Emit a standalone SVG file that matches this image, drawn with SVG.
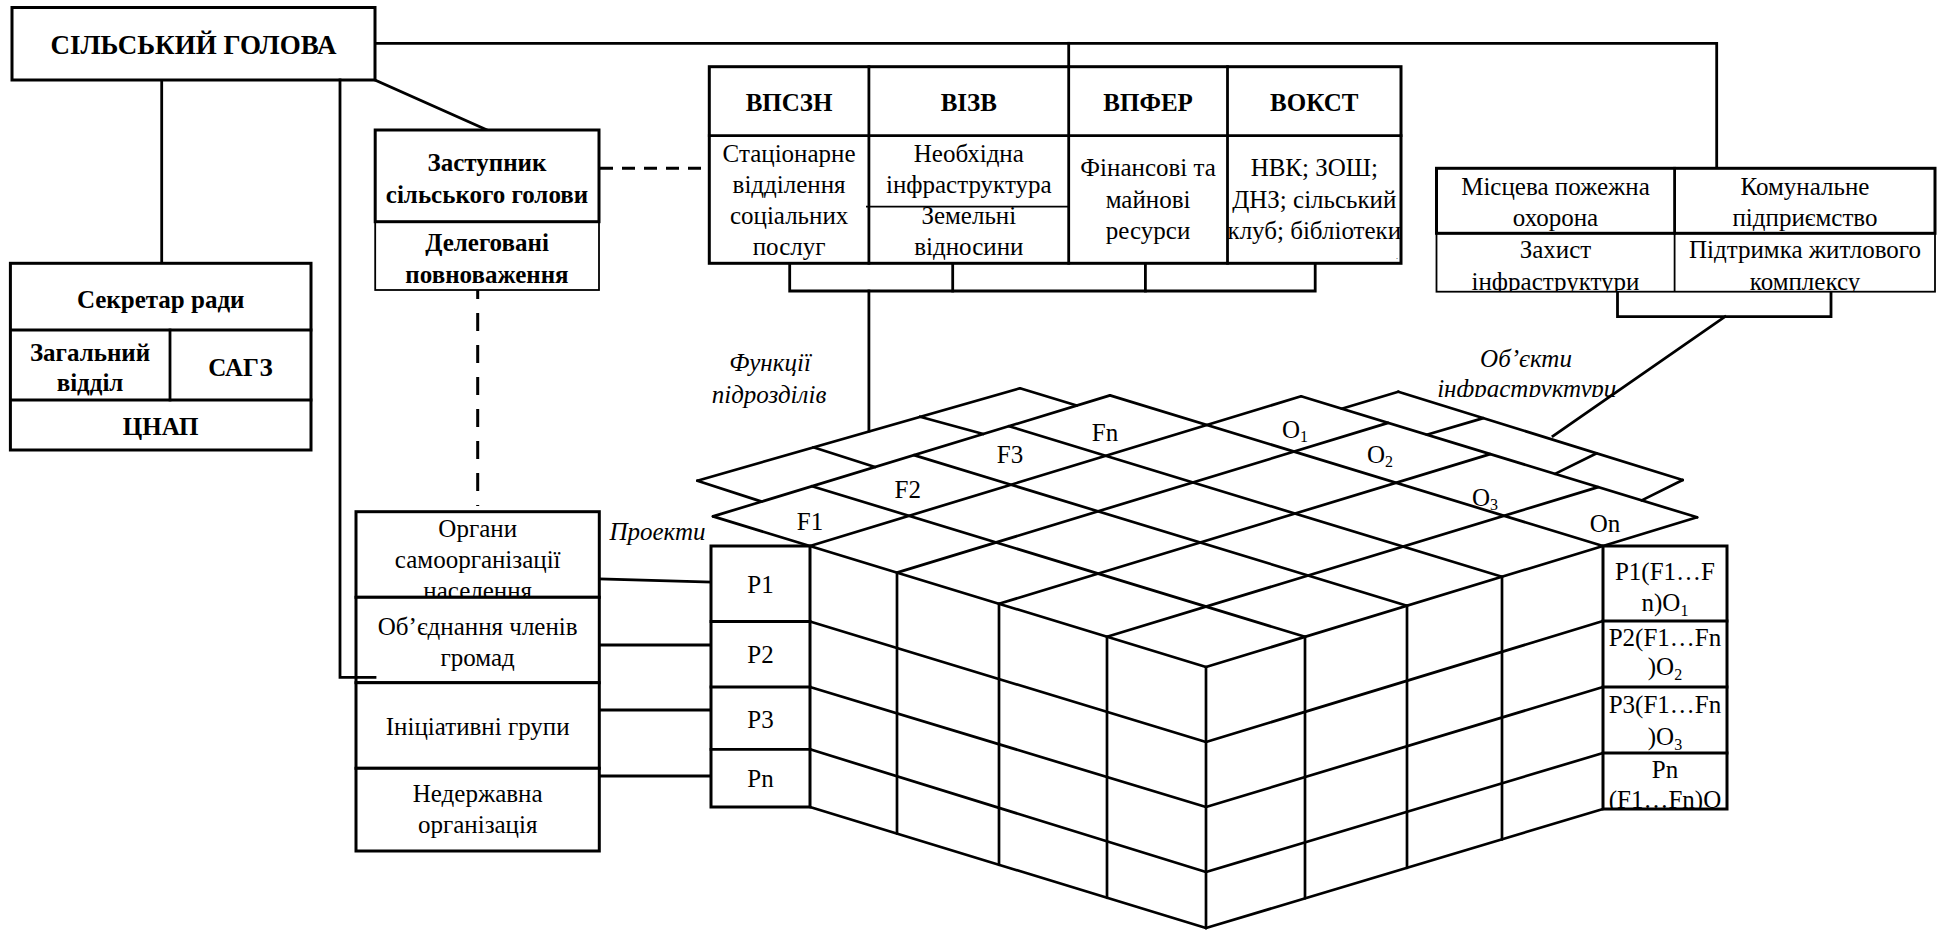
<svg xmlns="http://www.w3.org/2000/svg" width="1945" height="930" viewBox="0 0 1945 930">
<style>
.bx{fill:#fff;stroke:#000;stroke-width:3}
.bt{fill:#fff;stroke:#000;stroke-width:1.8}
.tn{fill:none;stroke:#000;stroke-width:1.8}
.ln{fill:none;stroke:#000;stroke-width:2.8;stroke-linecap:square}
.gl{fill:none;stroke:#000;stroke-width:2.7;stroke-linecap:round}
.dh{fill:none;stroke:#000;stroke-width:3;stroke-dasharray:13 9}
.dv{fill:none;stroke:#000;stroke-width:3;stroke-dasharray:18 14}
text{font-family:"Liberation Serif","Times New Roman",serif;font-size:25px;fill:#000;text-anchor:middle}
.b{font-weight:bold}
.i{font-style:italic}
</style>
<defs>
<clipPath id="cKom"><rect x="1436" y="168" width="500" height="123.5"/></clipPath>
<clipPath id="cObj"><rect x="1380" y="330" width="300" height="67"/></clipPath>
<clipPath id="cPn"><rect x="1603" y="753" width="125" height="56"/></clipPath>
</defs>
<rect width="1945" height="930" fill="#fff"/>

<g id="connectors">
<polyline class="ln" points="375,43.3 1716.7,43.3 1716.7,168.3"/>
<line class="ln" x1="1068.7" y1="43.3" x2="1068.7" y2="66.7"/>
<line class="ln" x1="161.7" y1="80" x2="161.7" y2="263.3"/>
<line class="ln" x1="375" y1="80" x2="487" y2="130"/>
<line class="dh" x1="600" y1="168.3" x2="709" y2="168.3"/>
<line class="dv" x1="477.7" y1="281" x2="477.7" y2="506"/>
<polyline class="ln" points="789.7,263.3 789.7,291 1315.2,291 1315.2,263.3"/>
<line class="ln" x1="952.7" y1="263.3" x2="952.7" y2="291"/>
<line class="ln" x1="1145.4" y1="263.3" x2="1145.4" y2="291"/>
<line class="ln" x1="868.9" y1="291" x2="868.9" y2="431"/>
<polyline class="ln" points="1617.5,291.7 1617.5,316.7 1831,316.7 1831,291.7"/>
<line class="ln" x1="1725" y1="316.7" x2="1553" y2="436"/>
<line class="ln" x1="599.3" y1="579" x2="711" y2="582"/>
<line class="ln" x1="599.3" y1="645" x2="711" y2="645"/>
<line class="ln" x1="599.3" y1="710" x2="711" y2="710"/>
<line class="ln" x1="599.3" y1="776" x2="711" y2="776"/>
</g>

<g id="head">
<rect class="bx" x="12" y="7.5" width="363" height="72.5"/>
<text class="b" x="193.5" y="54" style="font-size:27px">СІЛЬСЬКИЙ ГОЛОВА</text>
</g>

<g id="secretary">
<rect class="bx" x="10.4" y="263.3" width="300.6" height="186.7"/>
<line class="ln" x1="10.4" y1="330" x2="311" y2="330"/>
<line class="ln" x1="10.4" y1="400" x2="311" y2="400"/>
<line class="ln" x1="170" y1="330" x2="170" y2="400"/>
<text class="b" x="160.7" y="308">Секретар ради</text>
<text class="b" x="90" y="361">Загальний</text>
<text class="b" x="90" y="391">відділ</text>
<text class="b" x="240.5" y="376">САГЗ</text>
<text class="b" x="160.7" y="435">ЦНАП</text>
</g>

<g id="deputy">
<rect class="bt" x="375.2" y="221.7" width="223.8" height="68.3"/>
<rect class="bx" x="375.2" y="130" width="223.8" height="91.7"/>
<text class="b" x="487" y="171">Заступник</text>
<text class="b" x="487" y="203">сільського голови</text>
<text class="b" x="487" y="251">Делеговані</text>
<text class="b" x="487" y="283">повноваження</text>
</g>

<g id="departments">
<rect class="bx" x="709.3" y="66.7" width="691.7" height="196.6"/>
<line class="ln" x1="709.3" y1="135.7" x2="1401" y2="135.7"/>
<line class="ln" x1="868.9" y1="66.7" x2="868.9" y2="263.3"/>
<line class="ln" x1="1068.7" y1="66.7" x2="1068.7" y2="263.3"/>
<line class="ln" x1="1227.5" y1="66.7" x2="1227.5" y2="263.3"/>
<line class="tn" x1="866" y1="206.7" x2="1068.7" y2="206.7"/>
<text class="b" x="789.1" y="111">ВПСЗН</text>
<text class="b" x="968.8" y="111">ВІЗВ</text>
<text class="b" x="1148.1" y="111">ВПФЕР</text>
<text class="b" x="1314.3" y="111">ВОКСТ</text>
<text x="789.1" y="162">Стаціонарне</text>
<text x="789.1" y="193">відділення</text>
<text x="789.1" y="224">соціальних</text>
<text x="789.1" y="255">послуг</text>
<text x="968.8" y="162">Необхідна</text>
<text x="968.8" y="193">інфраструктура</text>
<text x="968.8" y="224">Земельні</text>
<text x="968.8" y="255">відносини</text>
<text x="1148.1" y="176">Фінансові та</text>
<text x="1148.1" y="208">майнові</text>
<text x="1148.1" y="239">ресурси</text>
<text x="1314.3" y="176">НВК; ЗОШ;</text>
<text x="1314.3" y="208">ДНЗ; сільський</text>
<text x="1314.3" y="239">клуб; бібліотеки</text>
<text x="1397" y="259" style="font-size:8px">.</text>
</g>

<g id="infrastructure">
<rect class="bt" x="1436.5" y="233.3" width="498.5" height="58.4"/>
<line class="tn" x1="1674.6" y1="233.3" x2="1674.6" y2="291.7"/>
<rect class="bx" x="1436.5" y="168.3" width="498.5" height="65"/>
<line class="ln" x1="1674.6" y1="168.3" x2="1674.6" y2="233.3"/>
<text x="1555.5" y="195">Місцева пожежна</text>
<text x="1555.5" y="226">охорона</text>
<text x="1805" y="195">Комунальне</text>
<text x="1805" y="226">підприємство</text>
<g clip-path="url(#cKom)">
<text x="1555.5" y="258">Захист</text>
<text x="1555.5" y="290">інфраструктури</text>
<text x="1805" y="258">Підтримка житлового</text>
<text x="1805" y="290">комплексу</text>
</g>
</g>

<g id="community">
<rect class="bx" x="356" y="511.7" width="243.3" height="85.6"/>
<text x="477.7" y="537">Органи</text>
<text x="477.7" y="568">самоорганізації</text>
<text x="477.7" y="599">населення</text>
<rect class="bx" x="356" y="597.3" width="243.3" height="85.4"/>
<text x="477.7" y="635">Об’єднання членів</text>
<text x="477.7" y="666">громад</text>
<rect class="bx" x="356" y="682.7" width="243.3" height="85.6"/>
<text x="477.7" y="735">Ініціативні групи</text>
<rect class="bx" x="356" y="768.3" width="243.3" height="82.7"/>
<text x="477.7" y="802">Недержавна</text>
<text x="477.7" y="833">організація</text>
</g>

<g id="head-link">
<polyline class="ln" points="340,80 340,677.3 375,677.3"/>
</g>

<g id="projects">
<rect class="bx" x="711" y="546" width="99" height="261"/>
<line class="ln" x1="711" y1="621.5" x2="810" y2="621.5"/>
<line class="ln" x1="711" y1="687" x2="810" y2="687"/>
<line class="ln" x1="711" y1="749.3" x2="810" y2="749.3"/>
<text x="760.5" y="593">P1</text>
<text x="760.5" y="663">P2</text>
<text x="760.5" y="728">P3</text>
<text x="760.5" y="787">Pn</text>
</g>

<g id="results">
<rect class="bx" x="1603" y="546" width="124" height="263"/>
<line class="ln" x1="1603" y1="621" x2="1727" y2="621"/>
<line class="ln" x1="1603" y1="687" x2="1727" y2="687"/>
<line class="ln" x1="1603" y1="753" x2="1727" y2="753"/>
<text x="1665" y="580">P1(F1…F</text>
<text x="1665" y="611">n)O<tspan style="font-size:16px" dy="5">1</tspan></text>
<text x="1665" y="646">P2(F1…Fn</text>
<text x="1665" y="675">)O<tspan style="font-size:16px" dy="5">2</tspan></text>
<text x="1665" y="713">P3(F1…Fn</text>
<text x="1665" y="745">)O<tspan style="font-size:16px" dy="5">3</tspan></text>
<g clip-path="url(#cPn)">
<text x="1665" y="778">Pn</text>
<text x="1665" y="808">(F1…Fn)O</text>
</g>
</g>

<g id="cube">
<line class="gl" x1="713" y1="516.4" x2="1110" y2="395.4"/>
<line class="gl" x1="810" y1="546" x2="1301.1" y2="396.3"/>
<line class="gl" x1="897" y1="572.6" x2="1388.1" y2="422.9"/>
<line class="gl" x1="999" y1="603.8" x2="1490.1" y2="454.1"/>
<line class="gl" x1="1107" y1="636.8" x2="1598.1" y2="487.1"/>
<line class="gl" x1="1206" y1="667" x2="1697.1" y2="517.3"/>
<line class="gl" x1="713" y1="516.4" x2="1206" y2="667"/>
<line class="gl" x1="812" y1="486.2" x2="1305" y2="636.8"/>
<line class="gl" x1="914" y1="455.1" x2="1407" y2="605.7"/>
<line class="gl" x1="1009" y1="426.2" x2="1502" y2="576.8"/>
<line class="gl" x1="1110" y1="395.4" x2="1603" y2="546"/>
<line class="gl" x1="1301.1" y1="396.3" x2="1697.1" y2="517.3"/>
<line class="gl" x1="697.3" y1="480.7" x2="1020" y2="388.3"/>
<line class="gl" x1="697.3" y1="480.7" x2="761.7" y2="501.6"/>
<line class="gl" x1="813.3" y1="447.3" x2="875" y2="467"/>
<line class="gl" x1="920" y1="416.7" x2="983.3" y2="434"/>
<line class="gl" x1="1020" y1="388.3" x2="1076.7" y2="405.5"/>
<line class="gl" x1="1398.3" y1="391.7" x2="1682.7" y2="480"/>
<line class="gl" x1="1341.7" y1="408.7" x2="1398.3" y2="391.7"/>
<line class="gl" x1="1426.7" y1="434.7" x2="1483.3" y2="418.1"/>
<line class="gl" x1="1555" y1="473.9" x2="1596.7" y2="453.3"/>
<line class="gl" x1="1641.7" y1="500.4" x2="1682.7" y2="480"/>
<line class="gl" x1="810" y1="621.5" x2="1206" y2="742"/>
<line class="gl" x1="810" y1="687" x2="1206" y2="807"/>
<line class="gl" x1="810" y1="749.3" x2="1206" y2="872"/>
<line class="gl" x1="810" y1="807" x2="1206" y2="928"/>
<line class="gl" x1="897" y1="572.6" x2="897" y2="833.6"/>
<line class="gl" x1="999" y1="603.8" x2="999" y2="864.8"/>
<line class="gl" x1="1107" y1="636.8" x2="1107" y2="897.8"/>
<line class="gl" x1="1206" y1="667" x2="1206" y2="928"/>
<line class="gl" x1="1206" y1="742" x2="1603" y2="621"/>
<line class="gl" x1="1206" y1="807" x2="1603" y2="687"/>
<line class="gl" x1="1206" y1="872" x2="1603" y2="753"/>
<line class="gl" x1="1206" y1="928" x2="1603" y2="809"/>
<line class="gl" x1="1305" y1="636.8" x2="1305" y2="898.3"/>
<line class="gl" x1="1407" y1="605.7" x2="1407" y2="868"/>
<line class="gl" x1="1502" y1="576.8" x2="1502" y2="839.5"/>
<text x="810" y="530">F1</text>
<text x="907.7" y="498">F2</text>
<text x="1010" y="463">F3</text>
<text x="1105" y="441">Fn</text>
<text x="1295" y="438">O<tspan style="font-size:16px" dy="4">1</tspan></text>
<text x="1380" y="463">O<tspan style="font-size:16px" dy="4">2</tspan></text>
<text x="1485" y="506">O<tspan style="font-size:16px" dy="4">3</tspan></text>
<text x="1605" y="532">On</text>
</g>

<g id="labels">
<text class="i" x="770" y="371">Функції</text>
<text class="i" x="769" y="403">підрозділів</text>
<text class="i" x="657.5" y="540">Проекти</text>
<text class="i" x="1526" y="366.5">Об’єкти</text>
<g clip-path="url(#cObj)"><text class="i" x="1526.7" y="396.5">інфраструктури</text></g>
</g>
</svg>
